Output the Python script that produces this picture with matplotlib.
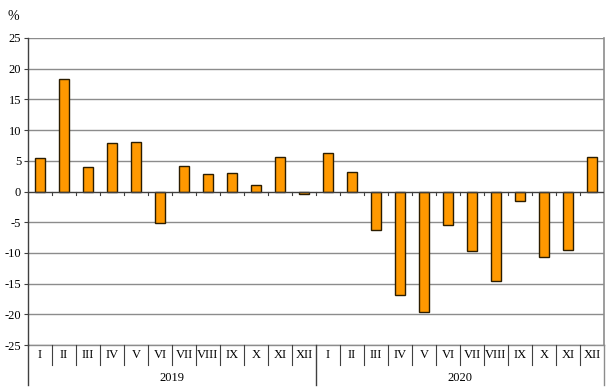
import matplotlib
matplotlib.use("Agg")
import matplotlib.pyplot as plt
import matplotlib.transforms as mtransforms

months = ["I", "II", "III", "IV", "V", "VI", "VII", "VIII", "IX", "X", "XI", "XII"]
years = ["2019", "2020"]
values_2019 = [5.5, 18.3, 4.0, 7.9, 8.1, -5.1, 4.2, 2.9, 3.0, 1.1, 5.6, -0.4]
values_2020 = [6.2, 3.2, -6.3, -16.8, -19.7, -5.5, -9.7, -14.5, -1.5, -10.7, -9.5, 5.6]
yticks = [-25, -20, -15, -10, -5, 0, 5, 10, 15, 20, 25]

values = values_2019 + values_2020
labels = months * len(years)
n = len(values)
x = list(range(n))

plt.rcParams['font.family'] = ['Liberation Serif', 'DejaVu Serif']

fig = plt.figure(figsize=(6.08, 3.90), dpi=100)
ax = fig.add_axes([28/608, 45/390, 576/608, 307/390])

grid_c = "#8c8c8c"
dark_c = "#404040"

for t in yticks:
    if t == 0:
        continue
    ax.axhline(t, color=grid_c, lw=1.0, zorder=0)

ax.bar(x, values, width=0.42, color="#FF9900", edgecolor="#2b1d00", linewidth=1.0, zorder=3)

ax.set_xlim(-0.5, n - 0.5)
ax.set_ylim(-25, 25)
ax.set_yticks(yticks)
ax.set_yticklabels([str(t) for t in yticks], fontsize=9)
ax.tick_params(axis='y', direction='out', length=3, width=0.8, color=dark_c, pad=2)
ax.set_xticks([])

for s in ["top", "bottom"]:
    ax.spines[s].set_visible(False)
ax.spines["left"].set_color(dark_c)
ax.spines["left"].set_linewidth(1.0)
ax.spines["right"].set_color(grid_c)
ax.spines["right"].set_linewidth(1.2)

# zero axis line with ticks below at category boundaries
ax.axhline(0, color=dark_c, lw=1.0, zorder=4)
for k in range(1, n):
    ax.plot([k - 0.5, k - 0.5], [0, -0.5], color=dark_c, lw=0.8, zorder=4)

# category table below plot
trans = mtransforms.blended_transform_factory(ax.transData, ax.transAxes)
row1 = -20/307
row2 = -40/307
ax.plot([-0.5, n - 0.5], [0, 0], transform=trans, color=grid_c, lw=1.0, clip_on=False)
for k in range(0, n + 1):
    b = k - 0.5
    if k % 12 == 0:
        ax.plot([b, b], [0, row2], transform=trans, color=dark_c if k < n else grid_c,
                lw=1.0, clip_on=False)
    else:
        ax.plot([b, b], [0, row1], transform=trans, color=dark_c, lw=0.8, clip_on=False)
for i, lab in enumerate(labels):
    ax.text(i, -10/307, lab, transform=trans, ha="center", va="center", fontsize=9)
for j, yr in enumerate(years):
    ax.text(j * 12 + 5.5, -33/307, yr, transform=trans, ha="center", va="center", fontsize=9)

fig.text(13/608, 1 - 16/390, "%", fontsize=10, ha="center", va="center")

fig.savefig("out.png", dpi=100)
